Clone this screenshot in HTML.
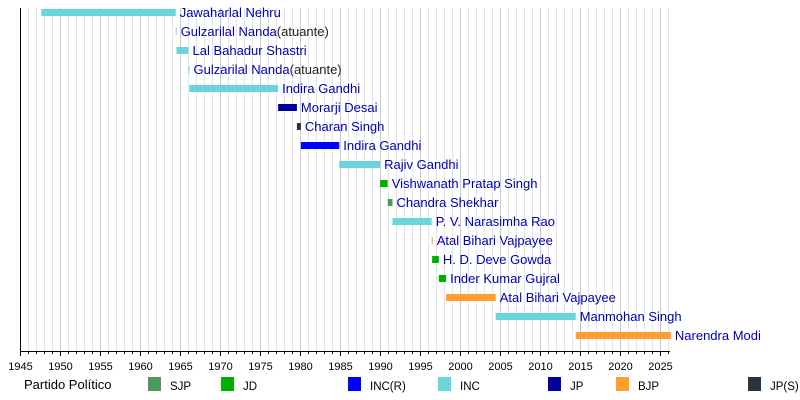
<!DOCTYPE html>
<html><head><meta charset="utf-8"><style>body{margin:0;background:#fff}svg{display:block;font-family:"Liberation Sans",sans-serif}</style></head><body>
<svg width="800" height="400" xmlns="http://www.w3.org/2000/svg">
<g id="grid"></g>
<g id="bars"></g>
<line x1="20.5" y1="8" x2="20.5" y2="351" stroke="#000"/>
<line x1="20" y1="351.5" x2="670" y2="351.5" stroke="#000"/>
<g id="ticks"></g>
<g font-size="11.5" fill="#000">
<text x="24" y="389" font-size="13">Partido Político</text>
<rect x="148" y="377" width="13" height="14" fill="#4c9a5a"/><text x="170" y="390">SJP</text>
<rect x="221" y="377" width="13" height="14" fill="#00b000"/><text x="243" y="390">JD</text>
<rect x="348" y="377" width="13" height="14" fill="#0000ff"/><text x="370" y="390">INC(R)</text>
<rect x="438" y="377" width="13" height="14" fill="#6ad5dc"/><text x="460" y="390">INC</text>
<rect x="548" y="377" width="13" height="14" fill="#000099"/><text x="570" y="390">JP</text>
<rect x="616" y="377" width="13" height="14" fill="#ff9f30"/><text x="638" y="390">BJP</text>
<rect x="748" y="377" width="13" height="14" fill="#2a343d"/><text x="770" y="390">JP(S)</text>
</g>
<script>
var ns="http://www.w3.org/2000/svg";
function X(y){return 20.5+(y-1945)*8;}
function el(p,t,a,txt){var e=document.createElementNS(ns,t);for(var k in a)e.setAttribute(k,a[k]);if(txt!==undefined)e.textContent=txt;document.getElementById(p).appendChild(e);return e;}
for(var y=1946;y<=2026;y++){el("grid","line",{x1:X(y),x2:X(y),y1:8,y2:351,stroke:y%5?"#e4e4e4":"#c8c8c8","stroke-width":1});}
for(var y=1945;y<=2026;y++){el("ticks","line",{x1:X(y),x2:X(y),y1:351,y2:y%5?354:356,stroke:"#000"});
 if(y%5==0)el("ticks","text",{x:X(y),y:370,"text-anchor":"middle","font-size":"11"},y);}
var I="#6ad5dc",JP="#000099",S="#2a343d",R="#0000ff",JD="#00b000",SJ="#4c9a5a",B="#ff9f30";
var d=[[1947.6,1964.4,I,"Jawaharlal Nehru",""],[1964.4,1964.5,I,"Gulzarilal Nanda","(atuante)"],[1964.5,1966.0,I,"Lal Bahadur Shastri",""],[1966.0,1966.1,I,"Gulzarilal Nanda","(atuante)"],[1966.1,1977.2,I,"Indira Gandhi",""],[1977.2,1979.55,JP,"Morarji Desai",""],[1979.55,1980.05,S,"Charan Singh",""],[1980.05,1984.85,R,"Indira Gandhi",""],[1984.85,1989.95,I,"Rajiv Gandhi",""],[1989.95,1990.9,JD,"Vishwanath Pratap Singh",""],[1990.9,1991.5,SJ,"Chandra Shekhar",""],[1991.5,1996.4,I,"P. V. Narasimha Rao",""],[1996.4,1996.45,B,"Atal Bihari Vajpayee",""],[1996.45,1997.3,JD,"H. D. Deve Gowda",""],[1997.3,1998.2,JD,"Inder Kumar Gujral",""],[1998.2,2004.4,B,"Atal Bihari Vajpayee",""],[2004.4,2014.4,I,"Manmohan Singh",""],[2014.4,2026.3,B,"Narendra Modi",""]];
d.forEach(function(r,i){var cy=12+i*19,x1=X(r[0]),x2=Math.max(X(r[1]),x1+1);
 el("bars","rect",{x:x1,y:cy-3,width:x2-x1,height:7,fill:r[2]});
 var t=el("bars","text",{x:x2+4,y:cy+5,"font-size":"13",fill:"#0000aa"});
 var a=document.createElementNS(ns,"tspan");a.textContent=r[3];t.appendChild(a);
 if(r[4]){var b=document.createElementNS(ns,"tspan");b.setAttribute("fill","#222");b.textContent=r[4];t.appendChild(b);}
});
</script>
</svg>
</body></html>
